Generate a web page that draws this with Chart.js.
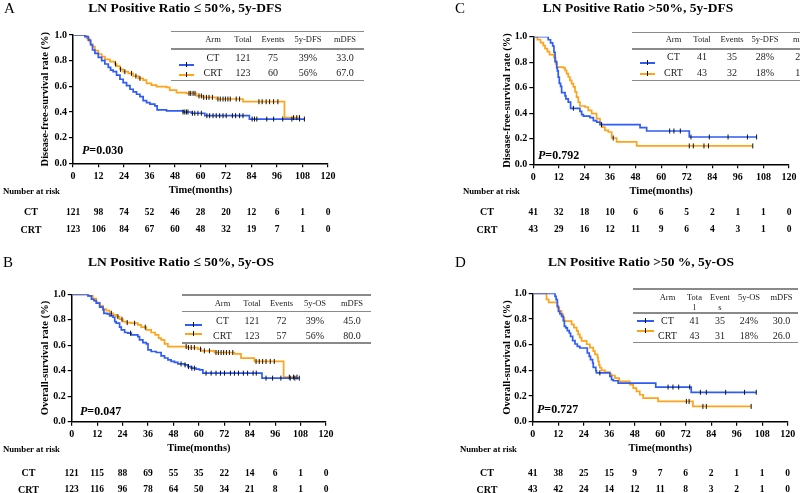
<!DOCTYPE html>
<html><head><meta charset="utf-8">
<script src="https://cdn.jsdelivr.net/npm/chart.js@4"></script>
<style>
html,body{margin:0;padding:0;background:#fff;}
body{width:800px;height:493px;overflow:hidden;position:relative;font-family:'Liberation Serif','Times New Roman',serif;color:#000;}
.t{position:absolute;white-space:nowrap;line-height:1;}
.c{transform:translate(-50%,-50%);}
.l{transform:translate(0,-50%);}
.hl{position:absolute;height:1.5px;background:#8a8a8a;}
canvas{position:absolute;}
</style></head><body>
<script>
// ---------------- DATA ----------------
const timeTicks = [0,12,24,36,48,60,72,84,96,108,120];
const yTicks = [0,0.2,0.4,0.6,0.8,1.0];
const yTickLabels = ['0.0','0.2','0.4','0.6','0.8','1.0'];

// Panel A: LN ratio <= 50%, DFS
const aCtTime = [5.6,7.2,8.3,9.2,10.3,11.9,13.5,15.0,16.6,17.7,18.9,20.5,22.1,23.6,25.2,26.8,28.3,29.9,31.5,33.0,34.6,36.2,38.5,39.6,44.0,51.8,55.7,62.0,83.0];
const aCtSurv = [0.987,0.96,0.922,0.883,0.857,0.826,0.80,0.774,0.748,0.727,0.714,0.688,0.655,0.629,0.605,0.577,0.556,0.538,0.519,0.488,0.473,0.462,0.447,0.416,0.408,0.40,0.39,0.371,0.345];
const aCtCensor = [51.8,52.6,53.4,54.1,56.2,57.3,58.8,60.4,63,64.3,65.9,67.4,69,70.6,72.1,75,76.5,78.4,80,84.3,85.4,86.5,91.2,94.4,98.7,103,106.6,108.9];
const aCrtTime = [6.4,7.7,8.3,9.2,10.3,11.9,13.5,15.0,17.4,19.7,20.5,22.1,23.6,26.0,28.3,30.7,33.0,34.6,36.9,39.3,44.0,45.5,48.7,53.4,58.1,61.2,67.4,80.0,99.5];
const aCrtSurv = [0.974,0.948,0.93,0.909,0.878,0.852,0.831,0.81,0.792,0.774,0.758,0.732,0.714,0.701,0.68,0.662,0.649,0.623,0.61,0.597,0.592,0.571,0.551,0.545,0.525,0.514,0.501,0.48,0.356];
const aCrtCensor = [20,22.4,24.4,27.5,29.6,31.5,54.6,55.4,56.5,57.4,59.3,60.4,61.5,62.8,64,65.6,68.2,69.3,70.6,71.7,72.9,74,76.8,78.4,87.5,89,90.9,92.5,94.4,96.4,103.8,105.3,106.6];
const aRiskCT = [121,98,74,52,46,28,20,12,6,1,0];
const aRiskCRT = [123,106,84,67,60,48,32,19,7,1,0];

// Panel B: LN ratio <= 50%, OS
const bCtTime = [7.7,9.3,10.5,11.6,13.2,14.8,15.2,16.8,17.9,19.5,20.3,21.0,22.6,23.4,25.0,26.5,28.1,31.2,32.0,33.6,35.2,36.0,37.5,39.9,42.2,43.8,45.4,46.9,48.5,50.1,53.2,54.8,56.4,58.7,60.3,61.9,89.8];
const bCtSurv = [0.987,0.961,0.95,0.93,0.90,0.877,0.85,0.846,0.83,0.82,0.786,0.773,0.742,0.721,0.70,0.695,0.682,0.668,0.642,0.621,0.611,0.564,0.551,0.543,0.517,0.50,0.486,0.473,0.465,0.454,0.446,0.433,0.42,0.413,0.407,0.381,0.342];
const bCtCensor = [27.8,51.6,53.5,55.1,56.7,57.9,63.4,65.8,68.1,70.2,72.1,74.9,76.8,78.7,81,83,85.6,87.1,91.7,94.8,98.7,103.1,105.3,107.4];
const bCrtTime = [7.7,10.0,11.6,13.2,14.8,16.3,17.9,19.5,21.0,22.6,24.2,25.7,28.1,31.2,32.8,35.2,37.5,39.4,41.0,42.2,43.8,45.4,54.8,59.5,61.1,67.3,76.8,79.9,86.2,100.0];
const bCrtSurv = [0.987,0.966,0.935,0.909,0.883,0.872,0.851,0.838,0.825,0.804,0.786,0.778,0.773,0.76,0.742,0.72,0.70,0.682,0.656,0.642,0.611,0.59,0.582,0.569,0.556,0.543,0.533,0.499,0.473,0.35];
const bCrtCensor = [18.7,21.8,23.7,26.2,29.7,34.7,54,55.1,56.4,57.9,60.8,62.6,65,68.1,69.2,70.5,71.7,73,74.4,76,87,88.5,90.1,91.7,93.7,95.6,102.7,104.7,106.3];
const bRiskCT = [121,115,88,69,55,35,22,14,6,1,0];
const bRiskCRT = [123,116,96,78,64,50,34,21,8,1,0];

// Panel C: LN ratio > 50%, DFS
const cCtTime = [7.0,8.1,9.1,9.7,10.2,11.0,11.3,11.7,12.2,12.8,13.3,14.9,15.3,16.4,17.5,21.9,22.7,23.5,26.6,28.2,29.7,31.3,50.1,53.2,73.2];
const cCtSurv = [0.976,0.951,0.927,0.878,0.805,0.756,0.732,0.683,0.634,0.61,0.561,0.537,0.512,0.488,0.439,0.415,0.39,0.378,0.366,0.342,0.33,0.311,0.287,0.261,0.214];
const cCtCensor = [18.8,32.0,64,66,69,74,82.6,91.4,100.5,104.8];
const cCrtTime = [1.9,3.4,4.7,5.5,6.6,7.6,9.7,10.5,11.0,14.1,14.9,15.6,16.4,17.2,18.0,18.8,19.6,20.3,21.1,21.9,24.3,25.8,27.4,29.7,31.3,32.1,33.6,35.2,36.8,39.1,48.5];
const cCrtSurv = [0.977,0.953,0.93,0.906,0.883,0.86,0.837,0.786,0.762,0.755,0.736,0.71,0.684,0.658,0.632,0.606,0.567,0.527,0.488,0.457,0.449,0.423,0.397,0.358,0.319,0.292,0.266,0.253,0.206,0.175,0.144];
const cCrtCensor = [37.5,73.2,75.1,80.1,82.2,103.0];
const cRiskCT = [41,32,18,10,6,6,5,2,1,1,0];
const cRiskCRT = [43,29,16,12,11,9,6,4,3,1,0];

// Panel D: LN ratio > 50%, OS
const dCtTime = [10.5,11.0,11.6,12.1,12.8,13.6,14.4,14.9,15.6,16.3,17.2,17.8,18.8,19.9,21.0,22.2,25.7,26.6,27.2,28.2,28.5,29.7,30.0,36.3,37.1,37.9,40.2,57.9,74.6];
const dCtSurv = [0.976,0.951,0.899,0.86,0.839,0.821,0.787,0.743,0.73,0.709,0.691,0.665,0.631,0.605,0.587,0.574,0.535,0.509,0.483,0.457,0.423,0.397,0.38,0.353,0.327,0.319,0.301,0.27,0.229];
const dCtCensor = [31.6,63.7,66.0,68.7,73.9,78.9,81.7,90.8,99.7,105.2];
const dCrtTime = [6.5,7.5,11.6,12.5,13.6,14.4,14.9,18.3,19.4,20.7,21.4,22.2,23.0,25.4,26.9,28.5,29.3,30.5,30.8,31.2,31.6,32.4,34.0,36.3,37.1,38.7,40.7,45.7,47.3,48.8,50.4,52.0,59.0,75.4];
const dCrtSurv = [0.953,0.93,0.888,0.862,0.836,0.81,0.784,0.758,0.732,0.707,0.68,0.655,0.629,0.603,0.577,0.55,0.525,0.50,0.47,0.44,0.42,0.40,0.387,0.37,0.36,0.34,0.314,0.288,0.262,0.236,0.21,0.184,0.158,0.119];
const dCrtCensor = [72.3,73.6,80.1,81.7,102.8];
const dRiskCT = [41,38,25,15,9,7,6,2,1,1,0];
const dRiskCRT = [43,42,24,14,12,11,8,3,2,1,0];

// Tables
const headDFS = ['Arm','Total','Events','5y-DFS','mDFS'];
const headOS = ['Arm','Total','Events','5y-OS','mDFS'];
const headOSsplit = [['Arm'],['Tota','l'],['Event','s'],['5y-OS'],['mDFS']];
const aRows = [['CT','121','75','39%','33.0'],['CRT','123','60','56%','67.0']];
const bRows = [['CT','121','72','39%','45.0'],['CRT','123','57','56%','80.0']];
const cRows = [['CT','41','35','28%','21.0'],['CRT','43','32','18%','16.0']];
const dRows = [['CT','41','35','24%','30.0'],['CRT','43','31','18%','26.0']];

const titles = ['LN Positive Ratio \u2264 50%, 5y-DFS','LN Positive Ratio \u2264 50%, 5y-OS','LN Positive Ratio >50%, 5y-DFS','LN Positive Ratio >50 %, 5y-OS'];
const pValues = ['0.030','0.047','0.792','0.727'];

// ---------------- RENDER ----------------
const BLUE = '#2f5cf6', ORANGE = '#ffa31a';
const FONT = "'Liberation Serif','Times New Roman',serif";
Chart.defaults.font.family = FONT;
Chart.defaults.color = '#000';

function survAt(T,S,t){ let v=1; for(let i=0;i<T.length;i++){ if(T[i]<=t) v=S[i]; } return v; }
function stepPts(T,S,C){
  const end = Math.max(T[T.length-1], ...C);
  const pts=[{x:0,y:1}];
  T.forEach((t,i)=>pts.push({x:t,y:S[i]}));
  pts.push({x:end,y:S[S.length-1]});
  return pts;
}
function censorPts(T,S,C){ return C.map(t=>({x:t,y:survAt(T,S,t)})); }

function txt(x,y,s,style,cls){
  const d=document.createElement('div'); d.className='t '+(cls||'c');
  d.style.left=x+'px'; d.style.top=y+'px'; d.style.cssText+=';'+(style||'');
  d.innerHTML=s; document.body.appendChild(d); return d;
}
function hline(x1,x2,y){
  const d=document.createElement('div'); d.className='hl';
  d.style.left=x1+'px'; d.style.width=(x2-x1)+'px'; d.style.top=(y-0.75)+'px';
  document.body.appendChild(d);
}
function legSample(x1,x2,y,color){
  const d=document.createElement('div'); d.style.cssText='position:absolute;left:'+x1+'px;top:'+(y-1)+'px;width:'+(x2-x1)+'px;height:2px;background:'+color;
  document.body.appendChild(d);
  const k=document.createElement('div'); k.style.cssText='position:absolute;left:'+((x1+x2)/2-0.5)+'px;top:'+(y-3)+'px;width:1px;height:5px;background:#111';
  document.body.appendChild(k);
}

const panels = [
 {id:'A', ox:0, oy:0, left:73, right:328, top:35, bottom:163.3, yTitleX:45, yTitle:'Disease-free-survival rate (%)',
  ct:[aCtTime,aCtSurv,aCtCensor], crt:[aCrtTime,aCrtSurv,aCrtCensor], riskCT:aRiskCT, riskCRT:aRiskCRT,
  riskDy:[49.4,66.7], rowLabelX:31, nrX:3, nrY:191.7},
 {id:'B', ox:0, oy:245, left:71.7, right:326, top:49.3, bottom:176.7, yTitleX:45, yTitle:'Overall-survival rate (%)',
  ct:[bCtTime,bCtSurv,bCtCensor], crt:[bCrtTime,bCrtSurv,bCrtCensor], riskCT:bRiskCT, riskCRT:bRiskCRT,
  riskDy:[51.6,68.3], rowLabelX:28.5, nrX:3, nrY:204.3},
 {id:'C', ox:400, oy:0, left:133.3, right:389, top:36.7, bottom:164.3, yTitleX:107, yTitle:'Disease-free-survival rate (%)',
  ct:[cCtTime,cCtSurv,cCtCensor], crt:[cCrtTime,cCrtSurv,cCrtCensor], riskCT:cRiskCT, riskCRT:cRiskCRT,
  riskDy:[48.4,65.7], rowLabelX:87, nrX:63, nrY:192},
 {id:'D', ox:400, oy:245, left:132.7, right:387.7, top:48.3, bottom:176.7, yTitleX:107, yTitle:'Overall-survival rate (%)',
  ct:[dCtTime,dCtSurv,dCtCensor], crt:[dCrtTime,dCrtSurv,dCrtCensor], riskCT:dRiskCT, riskCRT:dRiskCRT,
  riskDy:[51.6,68.3], rowLabelX:87, nrX:60, nrY:204.3}
];
const CH = 248, XH = 33;

function riskPlugin(p){
  return {id:'risk'+p.id, afterDraw(chart){
    const ctx=chart.ctx, xs=chart.scales.x, b=chart.chartArea.bottom;
    ctx.save(); ctx.fillStyle='#000'; ctx.textAlign='center'; ctx.textBaseline='middle';
    ctx.font='bold 9.5px '+FONT;
    timeTicks.forEach((t,i)=>{
      const x=xs.getPixelForValue(t);
      ctx.fillText(String(p.riskCT[i]), x, b+p.riskDy[0]);
      ctx.fillText(String(p.riskCRT[i]), x, b+p.riskDy[1]);
    });
    ctx.font='bold 10px '+FONT;
    ctx.fillText('CT', p.rowLabelX, b+p.riskDy[0]);
    ctx.fillText('CRT', p.rowLabelX, b+p.riskDy[1]);
    ctx.textAlign='left'; ctx.font='bold 8.7px '+FONT;
    ctx.fillText('Number at risk', p.nrX, p.nrY);
    ctx.restore();
  }};
}

panels.forEach(p=>{
  const cv=document.createElement('canvas'); cv.width=400; cv.height=CH;
  cv.style.left=p.ox+'px'; cv.style.top=p.oy+'px'; document.body.appendChild(cv);
  const [cT,cS,cC]=p.ct, [rT,rS,rC]=p.crt;
  new Chart(cv.getContext('2d'),{
    type:'line',
    data:{datasets:[
      {type:'scatter', data:censorPts(cT,cS,cC), pointStyle:'line', rotation:90, pointRadius:2.5, borderColor:'#111', backgroundColor:'#111', borderWidth:1},
      {type:'scatter', data:censorPts(rT,rS,rC), pointStyle:'line', rotation:90, pointRadius:2.5, borderColor:'#111', backgroundColor:'#111', borderWidth:1},
      {data:stepPts(cT,cS,cC), borderColor:BLUE, borderWidth:1.7, stepped:true, pointRadius:0, fill:false},
      {data:stepPts(rT,rS,rC), borderColor:ORANGE, borderWidth:1.7, stepped:true, pointRadius:0, fill:false}
    ]},
    options:{
      responsive:false, animation:false, events:[], devicePixelRatio:1,
      layout:{padding:{left:0, top:p.top, right:400-p.right, bottom:CH-p.bottom-XH}},
      plugins:{legend:{display:false}, tooltip:{enabled:false}},
      scales:{
        x:{type:'linear', min:0, max:120,
           afterBuildTicks(s){ s.ticks=timeTicks.map(v=>({value:v})); },
           afterFit(s){ s.height=XH; },
           ticks:{font:{size:10, weight:'bold'}, padding:3, maxRotation:0, autoSkip:false, callback:(v,i)=>String(timeTicks[i])},
           grid:{drawOnChartArea:false, drawTicks:true, tickLength:4, color:'#000', lineWidth:1.2},
           border:{display:true, color:'#000', width:1.5},
           title:{display:true, text:'Time(months)', font:{size:10.5, weight:'bold'}, padding:{top:0,bottom:0}}},
        y:{type:'linear', min:0, max:1,
           afterBuildTicks(s){ s.ticks=yTicks.map(v=>({value:v})); },
           afterFit(s){ s.width=p.left; },
           ticks:{font:{size:10, weight:'bold'}, padding:2, autoSkip:false, callback:(v,i)=>yTickLabels[i]},
           grid:{drawOnChartArea:false, drawTicks:true, tickLength:4, color:'#000', lineWidth:1.2},
           border:{display:true, color:'#000', width:1.5},
           title:{display:true, text:p.yTitle, font:{size:10.5, weight:'bold'}, padding:{top:p.yTitleX-6.3, bottom:0}}}
      }
    },
    plugins:[riskPlugin(p)]
  });
});

// Titles and panel letters
txt(185,8,titles[0],'font-weight:bold;font-size:13.5px');
txt(181,262,titles[1],'font-weight:bold;font-size:13.5px');
txt(638,8,titles[2],'font-weight:bold;font-size:13.5px');
txt(641,262,titles[3],'font-weight:bold;font-size:13.5px');
txt(4,8,'A','font-size:15px','l');
txt(3,262,'B','font-size:15px','l');
txt(455,8,'C','font-size:15px','l');
txt(455,262,'D','font-size:15px','l');

// P values
const pPos = [[82,150],[80,410.7],[538,155],[537,409]];
pValues.forEach((v,i)=>txt(pPos[i][0],pPos[i][1],'<i>P</i>='+v,'font-weight:bold;font-size:12px','l'));

// Tables
function table(L){
  hline(L.x1,L.x2,L.top); hline(L.x1,L.x2,L.hdr); hline(L.x1,L.x2,L.bot);
  L.head.forEach((h,i)=>{
    const parts=Array.isArray(h)?h:[h];
    parts.forEach((s,k)=>txt(L.cols[i],L.headY+k*10,s,'font-size:8.5px;color:#222'));
  });
  L.rows.forEach((r,j)=>r.forEach((s,i)=>txt(L.cols[i],L.rowY[j],s,'font-size:10px;color:#222')));
  legSample(L.lx[0],L.lx[1],L.legY[0],BLUE);
  legSample(L.lx[0],L.lx[1],L.legY[1],ORANGE);
}
table({x1:171,x2:364,top:31.7,hdr:49,bot:80.3,headY:39.3,rowY:[57.5,72.7],cols:[213,243,273,308,345],head:headDFS,rows:aRows,lx:[179,194],legY:[65,75]});
table({x1:182,x2:371,top:295,hdr:311.5,bot:343,headY:302.5,rowY:[321,335.5],cols:[222.5,252,281.5,315,352],head:headOS,rows:bRows,lx:[185,202],legY:[325,333.5]});
table({x1:631.5,x2:800,top:32.5,hdr:49,bot:80.5,headY:38.5,rowY:[57,72.7],cols:[673.5,702,732,765,804],head:headDFS,rows:cRows,lx:[640,655],legY:[63,73.5]});
table({x1:633,x2:798,top:289,hdr:313,bot:342.5,headY:296.5,rowY:[320.5,335.5],cols:[667.5,694.5,720,749,781.5],head:headOSsplit,rows:dRows,lx:[637,654],legY:[320.5,331]});
</script>
</body></html>
